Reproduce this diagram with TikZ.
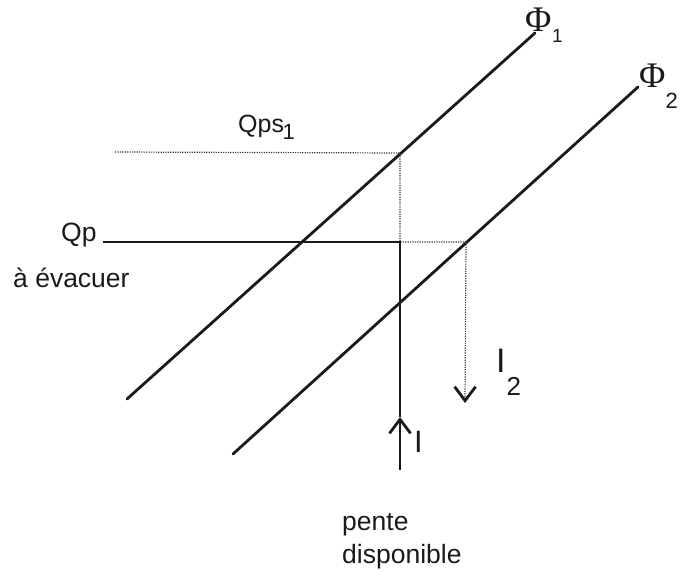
\documentclass[tikz,border=0pt]{standalone}
\usepackage{fontspec}
\setmainfont{Liberation Sans}
\newfontfamily\phifont{Liberation Serif}
\usetikzlibrary{positioning,arrows.meta}
\definecolor{ink}{HTML}{1A1A1A}
\definecolor{dots}{HTML}{3A3A3A}
\newcommand{\fs}[1]{\fontsize{#1pt}{#1pt}\selectfont}
\tikzset{
  droite/.style={line width=2.8pt, color=ink, line cap=round},
  trait/.style={line width=2.3pt, color=ink},
  pointil/.style={line width=1.2pt, color=dots, dash pattern=on 1.2pt off 1.2pt},
  fleche/.style={-{Straight Barb[length=14pt,width=21pt,line width=2.8pt,color=ink]}},
  lab/.style={font=\fs{26.5}, text=ink, inner sep=0pt, anchor=base west},
}
\begin{document}
\begin{tikzpicture}[x=1pt, y=-1pt]
  \useasboundingbox (0,0) rectangle (680,572);
  % les deux droites
  \coordinate (f1a) at (127,399);
  \coordinate (f1b) at (535,33);
  \coordinate (f2a) at (233,454);
  \coordinate (f2b) at (638,87);
  \draw[droite] (f1a) -- (f1b);
  \draw[droite] (f2a) -- (f2b);
  \node[lab, font=\phifont\fs{36}] (phi1) at (525,32) {Φ\kern0.5pt\raisebox{-11pt}{\normalfont\fs{19}1}};
  \node[lab, font=\phifont\fs{36}] (phi2) at (639,88) {Φ\kern0pt\raisebox{-21pt}{\normalfont\fs{22}2}};
  % points de lecture
  \coordinate (s1) at (400,153);
  \coordinate (coin) at (400,242);
  \coordinate (s2) at (466,242);
  \coordinate (bas) at (400,470);
  \coordinate (mil) at (400,417);
  \coordinate (fin2) at (465,403);
  \coordinate (qpsdeb) at (115,152);
  \coordinate (qpdeb) at (103,242);
  \node[lab, font=\fs{25}] (qps) at (238,133) {Qps\kern-1.5pt\raisebox{-7pt}{\fs{22}1}};
  \node[lab] (qp) at (61,242) {Qp};
  \node[lab] (evac) at (13,287) {à évacuer};
  \draw[pointil] (qpsdeb) -- (s1) -- (coin) -- (s2);
  \draw[trait] (qpdeb) -- (coin) -- (mil);
  \draw[trait, fleche] (bas) -- (mil);
  \draw[pointil, fleche] (s2) -- (fin2);
  \node[lab, font=\fs{31}] (ilab) at (414,452) {I};
  \node[lab, font=\fs{34}] (i2lab) at (496,372) {I\kern1pt\raisebox{-23pt}{\fs{26}2}};
  \node[lab] (pente) at (342,530) {pente};
  \node[lab] (dispo) at (342,563) {disponible};
\end{tikzpicture}
\end{document}
